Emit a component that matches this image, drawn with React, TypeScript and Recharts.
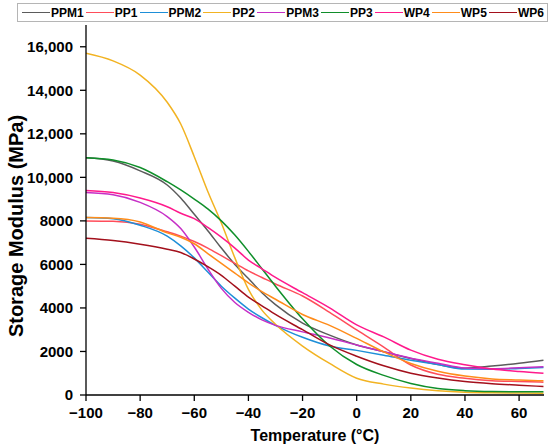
import { LineChart, Line, XAxis, YAxis } from 'recharts'

const temps = [-100, -90, -80, -70, -65, -60, -55, -50, -45, -40, -35, -30, -20, -10, 0, 10, 20, 30, 40, 50, 60, 69]

const ppm1 = [10900, 10750, 10300, 9650, 9050, 8300, 7550, 6750, 6000, 5350, 4700, 4150, 3300, 2750, 2300, 1990, 1680, 1400, 1230, 1330, 1460, 1600]
const pp1 = [8000, 7980, 7850, 7500, 7300, 7050, 6750, 6400, 6050, 5700, 5400, 5100, 4550, 3800, 2990, 2200, 1380, 950, 770, 660, 620, 590]
const ppm2 = [8150, 8100, 7800, 7300, 6850, 6300, 5650, 5000, 4450, 3950, 3550, 3200, 2650, 2250, 2050, 1830, 1600, 1400, 1190, 1180, 1220, 1260]
const pp2 = [15700, 15350, 14700, 13450, 12450, 10950, 9350, 7900, 6300, 4850, 3900, 3250, 2250, 1450, 770, 500, 320, 200, 130, 100, 90, 80]
const ppm3 = [9300, 9200, 8850, 8200, 7650, 6800, 5800, 4900, 4250, 3800, 3450, 3200, 2900, 2620, 2300, 1990, 1690, 1460, 1240, 1210, 1250, 1300]
const pp3 = [10900, 10800, 10450, 9800, 9420, 9000, 8550, 8000, 7350, 6600, 5800, 5000, 3500, 2250, 1400, 900, 530, 300, 200, 160, 150, 150]
const wp4 = [9400, 9300, 9050, 8650, 8350, 8100, 7700, 7250, 6750, 6200, 5800, 5400, 4700, 4000, 3220, 2670, 2060, 1640, 1390, 1200, 1080, 1000]
const wp5 = [8150, 8120, 7950, 7450, 7250, 6950, 6500, 6050, 5600, 5150, 4750, 4400, 3700, 3200, 2600, 1980, 1450, 1090, 870, 740, 690, 650]
const wp6 = [7200, 7100, 6930, 6700, 6550, 6250, 5900, 5500, 5000, 4500, 4100, 3700, 3000, 2300, 1780, 1340, 1000, 780, 620, 520, 450, 390]

const seriesNames = ['PPM1', 'PP1', 'PPM2', 'PP2', 'PPM3', 'PP3', 'WP4', 'WP5', 'WP6']
const seriesValues = [ppm1, pp1, ppm2, pp2, ppm3, pp3, wp4, wp5, wp6]
const colors = ['#5b5b5b', '#ff4d5a', '#1e8fd8', '#f2b322', '#c62fc6', '#0f8f2a', '#ff1a8c', '#ff8c1a', '#a3101c']

const xTicks = [-100, -80, -60, -40, -20, 0, 20, 40, 60]
const xMinorTicks = [-90, -70, -50, -30, -10, 10, 30, 50]
const yTicks = [0, 2000, 4000, 6000, 8000, 10000, 12000, 14000, 16000]
const yMinorTicks = [1000, 3000, 5000, 7000, 9000, 11000, 13000, 15000]

const data = temps.map((t, i) => {
  const row: Record<string, number> = { t }
  seriesNames.forEach((n, k) => { row[n] = seriesValues[k][i] })
  return row
})

const font = '"Liberation Sans", Arial, sans-serif'
const tickStyle = { fill: '#000', fontSize: 15, fontWeight: 700, fontFamily: font }
const fmtY = (v: number) => (v >= 10000 ? v.toLocaleString('en-US') : String(v))

// y title drawn by hand: it sits a bit lower than the plot centre in the original
const yTitle = () => (
  <text x={16} y={226} transform="rotate(-90, 16, 226)" textAnchor="middle" dominantBaseline="central"
    fill="#000" fontSize={20} fontWeight={700} fontFamily={font}>
    Storage Modulus (MPa)
  </text>
)

function LegendBox() {
  return (
    <div style={{
      position: 'absolute', left: 17, top: 3, width: 531, height: 19, border: '1px solid #b5b5b5',
      display: 'flex', alignItems: 'center', justifyContent: 'space-between', boxSizing: 'border-box',
      padding: '0 3px 0 4px', fontFamily: font, fontWeight: 700, fontSize: 12, background: '#fff'
    }}>
      {seriesNames.map((n, i) => (
        <div key={n} style={{ display: 'flex', alignItems: 'center' }}>
          <div style={{ width: 28, height: 0, borderTop: `1.3px solid ${colors[i]}`, marginRight: 1 }} />
          <span>{n}</span>
        </div>
      ))}
    </div>
  )
}

export default function App() {
  return (
    <div style={{ position: 'absolute', left: 0, top: 0, width: 550, height: 446, background: '#fff' }}>
      <LineChart width={550} height={446} data={data} margin={{ top: 25, right: 6, bottom: 0, left: 0 }}>
        <XAxis xAxisId="top" orientation="top" dataKey="t" type="number" domain={[-100, 69.2]}
          height={0} tick={false} tickLine={false} axisLine={{ stroke: '#000', strokeWidth: 1.3 }} />
        <YAxis yAxisId="right" orientation="right" type="number" domain={[0, 17000]}
          width={0} tick={false} tickLine={false} axisLine={{ stroke: '#000', strokeWidth: 1.3 }} />
        <XAxis xAxisId="minor" dataKey="t" type="number" domain={[-100, 69.2]} ticks={xMinorTicks}
          height={0} tickSize={3} tick={false} axisLine={false} tickLine={{ stroke: '#000', strokeWidth: 1.3 }} />
        <YAxis yAxisId="minor" type="number" domain={[0, 17000]} ticks={yMinorTicks}
          width={0} tickSize={3} tick={false} axisLine={false} tickLine={{ stroke: '#000', strokeWidth: 1.3 }} />
        <XAxis dataKey="t" type="number" domain={[-100, 69.2]} ticks={xTicks} allowDataOverflow
          height={51} tickSize={6} tickMargin={6} tick={tickStyle}
          tickFormatter={(v: number) => (v < 0 ? '\u2212' + Math.abs(v) : String(v))}
          axisLine={{ stroke: '#000', strokeWidth: 1.3 }} tickLine={{ stroke: '#000', strokeWidth: 1.3 }}
          label={{ value: 'Temperature (°C)', position: 'insideBottom', offset: 5,
            style: { fill: '#000', fontSize: 16, fontWeight: 700, fontFamily: font } }} />
        <YAxis type="number" domain={[0, 17000]} ticks={yTicks} width={86} tickSize={6} tickMargin={7}
          tick={tickStyle} tickFormatter={fmtY}
          axisLine={{ stroke: '#000', strokeWidth: 1.3 }} tickLine={{ stroke: '#000', strokeWidth: 1.3 }}
          label={yTitle} />
        {seriesNames.map((n, i) => (
          <Line key={n} dataKey={n} type="monotone" stroke={colors[i]} strokeWidth={1.5}
            dot={false} activeDot={false} isAnimationActive={false} />
        ))}
      </LineChart>
      <LegendBox />
    </div>
  )
}
